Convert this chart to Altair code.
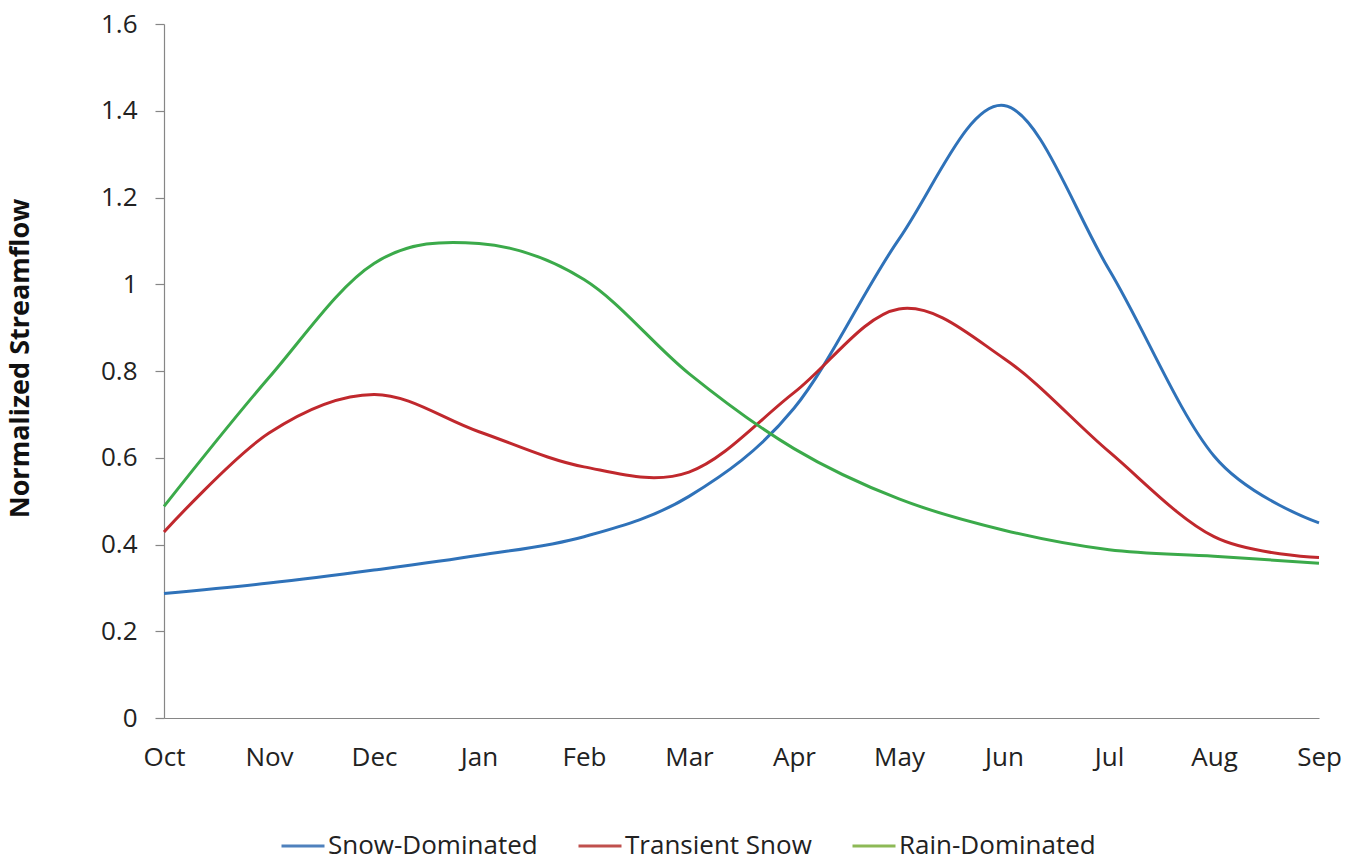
import altair as alt
import pandas as pd

months = ["Oct", "Nov", "Dec", "Jan", "Feb", "Mar", "Apr", "May", "Jun", "Jul", "Aug", "Sep"]
snow_dominated = [0.287, 0.311, 0.341, 0.375, 0.418, 0.511, 0.714, 1.104, 1.412, 1.034, 0.604, 0.450]
transient_snow = [0.429, 0.657, 0.746, 0.660, 0.579, 0.567, 0.750, 0.943, 0.829, 0.614, 0.418, 0.370]
rain_dominated = [0.488, 0.785, 1.048, 1.094, 1.011, 0.794, 0.621, 0.505, 0.433, 0.388, 0.373, 0.357]

series_names = ["Snow-Dominated", "Transient Snow", "Rain-Dominated"]
line_colors = ["#2F72B9", "#C0282D", "#3BAA4A"]
legend_colors = ["#4F81BD", "#C0504D", "#8DB956"]
y_ticks = [0, 0.2, 0.4, 0.6, 0.8, 1.0, 1.2, 1.4, 1.6]

rows = []
for name, vals in zip(series_names, [snow_dominated, transient_snow, rain_dominated]):
    for m, v in zip(months, vals):
        rows.append({"month": m, "value": v, "series": name})
df = pd.DataFrame(rows)

# one point per series: draws no visible line, only feeds the legend
legend_df = pd.DataFrame({"month": [months[0]] * 3, "value": [0.5] * 3, "series": series_names})

FONT = "Open Sans"
AXIS_GRAY = "#868686"
TEXT = "#222222"

x_enc = alt.X(
    "month:N",
    sort=months,
    scale=alt.Scale(type="point", padding=0, domain=months),
    axis=alt.Axis(
        title=None, ticks=False, tickSize=0, labelPadding=26, labelAngle=0,
        labelFont=FONT, labelFontSize=26, labelColor=TEXT,
        domainColor=AXIS_GRAY, domainWidth=1.2, grid=False,
    ),
)
y_enc = alt.Y(
    "value:Q",
    scale=alt.Scale(domain=[0, 1.6], nice=False, zero=True),
    axis=alt.Axis(
        title="Normalized Streamflow", values=y_ticks, format=".1~f",
        tickSize=9, tickColor=AXIS_GRAY, tickWidth=1.2, labelPadding=18,
        labelFont=FONT, labelFontSize=26, labelColor=TEXT,
        domainColor=AXIS_GRAY, domainWidth=1.2, grid=False,
        titleFont=FONT, titleFontSize=27, titleFontWeight="bold", titleColor="#111111",
        titleAngle=270, titleBaseline="middle", titleAlign="center",
        titleX=-144, titleY=334,
    ),
)

lines = alt.Chart(df).mark_line(interpolate="cardinal", strokeWidth=3).encode(
    x=x_enc,
    y=y_enc,
    color=alt.Color("series:N", scale=alt.Scale(domain=series_names, range=line_colors), legend=None),
)

legend_layer = alt.Chart(legend_df).mark_line(strokeWidth=3).encode(
    x=alt.X("month:N", sort=months),
    y=alt.Y("value:Q"),
    color=alt.Color(
        "series:N",
        scale=alt.Scale(domain=series_names, range=legend_colors),
        legend=alt.Legend(
            title=None, orient="none", direction="horizontal",
            legendX=116, legendY=799,
            symbolType="stroke", symbolSize=1849, symbolStrokeWidth=3,
            labelFont=FONT, labelFontSize=26, labelColor=TEXT,
            labelOffset=2, columnPadding=34, padding=0,
            labelLimit=400,
        ),
    ),
)

chart = (
    alt.layer(lines, legend_layer)
    .resolve_scale(color="independent")
    .resolve_legend(color="independent")
    .properties(
        width=1155, height=694,
        autosize=alt.AutoSizeParams(type="none"),
        padding={"left": 156, "top": 16, "right": 23, "bottom": 136},
        background="white",
    )
    .configure_view(stroke=None)
)

chart.save("out.html", embed_options={"renderer": "svg", "actions": False})
